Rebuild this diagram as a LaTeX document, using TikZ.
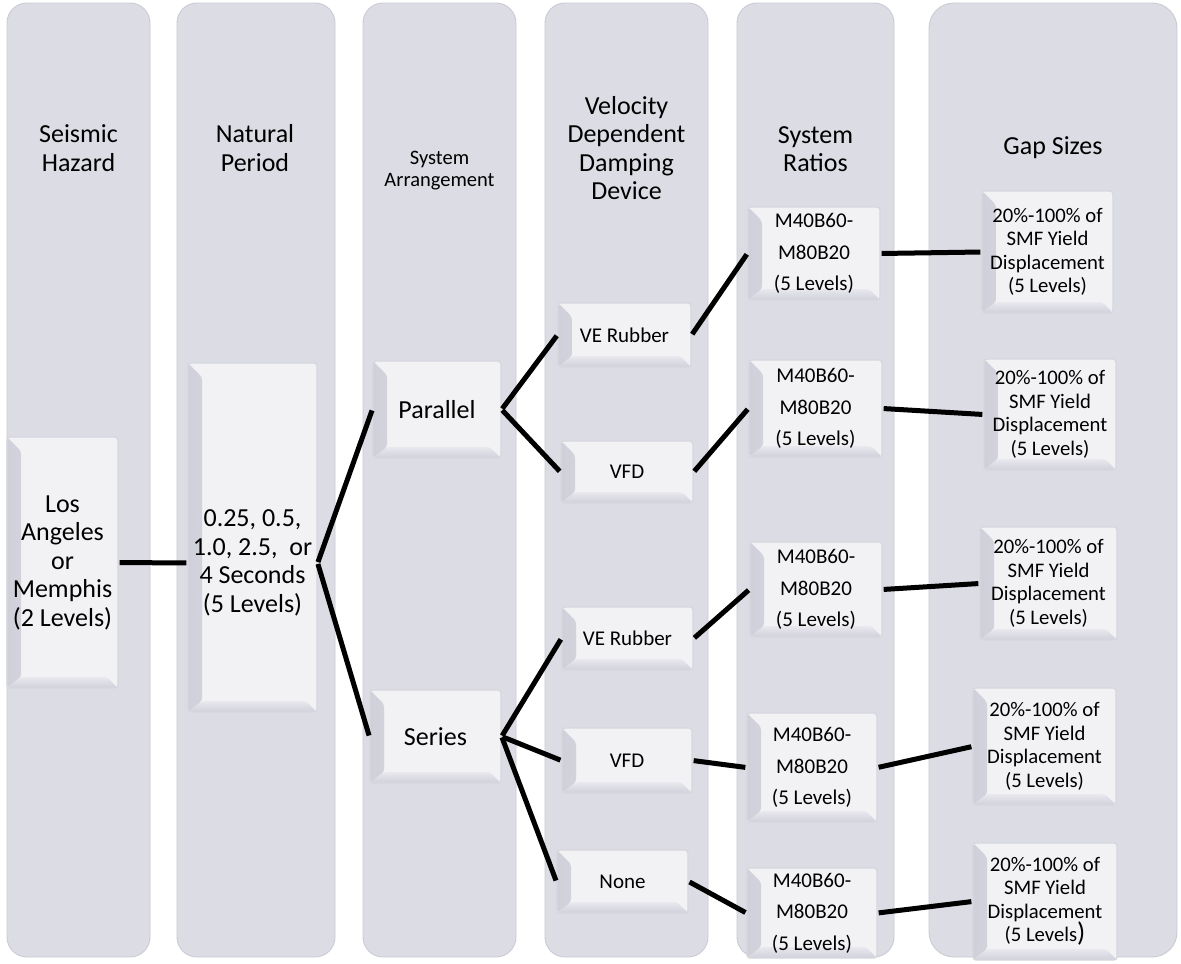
\documentclass[tikz,border=0pt]{standalone}
\usepackage{fontspec}
\setmainfont{Carlito}
\usetikzlibrary{calc}
\definecolor{colfill}{HTML}{DCDCE4}
\definecolor{coledge}{HTML}{CACBD3}
\definecolor{boxfill}{HTML}{F2F2F5}
\definecolor{boxedge}{HTML}{D6D7DE}
\definecolor{bevdark}{HTML}{CFD0D9}
\definecolor{bevlight}{HTML}{E6E6EC}
\definecolor{botdark}{HTML}{D0D1DA}
\definecolor{botlight}{HTML}{E8E8EE}
\tikzset{
  col/.style={draw=coledge, line width=0.9pt, fill=colfill, rounded corners=20pt, inner sep=0pt},
  bbox/.style={draw=boxedge, line width=1.3pt, fill=boxfill, rounded corners=3pt, inner sep=0pt, align=center,
    path picture={
      \shade[left color=bevdark, right color=bevlight]
        (path picture bounding box.north west) -- ++(14pt,-14pt)
        -- ($(path picture bounding box.south west)+(14pt,11pt)$)
        -- (path picture bounding box.south west) -- cycle;
      \shade[bottom color=botdark, top color=botlight]
        (path picture bounding box.south west) -- ++(14pt,11pt)
        -- ($(path picture bounding box.south east)+(-11pt,11pt)$)
        -- (path picture bounding box.south east) -- cycle;
    }},
  big/.style={font=\fontsize{26}{28.5}\selectfont},
  mid/.style={font=\fontsize{21}{31.5}\selectfont},
  small/.style={font=\fontsize{21}{24}\selectfont},
  gap/.style={font=\fontsize{20.7}{23.5}\selectfont},
  hdr/.style={big, align=center, inner sep=0pt},
  hdrs/.style={font=\fontsize{20.5}{22}\selectfont, align=center, inner sep=0pt},
  txt/.style={big, align=center, inner sep=0pt},
  link/.style={line width=5pt, black, shorten <=1pt, shorten >=1pt},
}
% #1 options, #2 name, #3 x0, #4 y0, #5 x1, #6 y1, #7 text
\newcommand\bbx[7][]{%
  \pgfmathsetmacro\bw{#5-#3}\pgfmathsetmacro\bh{#6-#4}%
  \node[bbox,#1,minimum width=\bw pt, minimum height=\bh pt] (#2) at ({(#3+#5)/2},{(#4+#6)/2}) {#7};}
\begin{document}
\begin{tikzpicture}[x=1pt,y=-1pt]
\useasboundingbox[fill=white] (0,0) rectangle (1181,964);
% columns
\node[col,minimum width=143pt,minimum height=954pt] (c1) at (78.5,480) {};
\node[col,minimum width=158pt,minimum height=954pt] (c2) at (256,480) {};
\node[col,minimum width=153pt,minimum height=954pt] (c3) at (439.5,480) {};
\node[col,minimum width=163pt,minimum height=954pt] (c4) at (626.5,480) {};
\node[col,minimum width=157pt,minimum height=954pt] (c5) at (815.5,480) {};
\node[col,rounded corners=25pt,minimum width=248pt,minimum height=954pt] (c6) at (1053,480) {};
% headers
\node[hdr] (h1) at (78.5,148) {Seismic\\Hazard};
\node[hdr] (h2) at (255,148) {Natural\\Period};
\node[hdrs] (h3) at (439.5,171) {System\\Arrangement};
\node[hdr] (h4) at (626.5,148) {Velocity\\Dependent\\Damping\\Device};
\node[hdr] (h5) at (815.5,149) {System\\Ratios};
\node[hdr] (h6) at (1053,148) {Gap Sizes};
% boxes
\bbx[big]{LA}{7}{437}{118}{688}{Los\\Angeles\\or\\Memphis\\(2 Levels)}
\bbx{NP}{188}{363}{317}{712}{}
\node[txt] (NPt) at (252.5,563) {0.25, 0.5,\\1.0, 2.5,\ \ or\\4 Seconds\\(5 Levels)};
\bbx[big]{Par}{373}{361}{501}{458}{Parallel}
\bbx[big]{Ser}{370}{690}{501}{783}{Series}
\bbx[small]{VE1}{558}{303}{691}{367}{VE Rubber}
\bbx[small]{VFD1}{561}{441}{693}{503}{VFD}
\bbx[small]{VE2}{562}{607}{693}{670}{VE Rubber}
\bbx[small]{VFD2}{562}{728}{692}{793}{VFD}
\bbx[small]{None}{557}{850}{688}{913}{None}
\bbx[mid]{M1}{748}{207}{880}{300}{M40B60-\\M80B20\\(5 Levels)}
\bbx[mid]{M2}{749}{360}{882}{457}{M40B60-\\M80B20\\(5 Levels)}
\bbx[mid]{M3}{750}{542}{882}{637}{M40B60-\\M80B20\\(5 Levels)}
\bbx[mid]{M4}{747}{713}{877}{822}{M40B60-\\M80B20\\(5 Levels)}
\bbx[mid]{M5}{747}{868}{877}{958}{M40B60-\\M80B20\\(5 Levels)}
\bbx[gap]{G1}{982}{191}{1113}{313}{20\%-100\% of\\SMF Yield\\Displacement\\(5 Levels)}
\bbx[gap]{G2}{984}{359}{1116}{470}{20\%-100\% of\\SMF Yield\\Displacement\\(5 Levels)}
\bbx[gap]{G3}{980}{527}{1117}{640}{20\%-100\% of\\SMF Yield\\Displacement\\(5 Levels)}
\bbx[gap]{G4}{973}{688}{1116}{805}{20\%-100\% of\\SMF Yield\\Displacement\\(5 Levels)}
\bbx[gap]{G5}{973}{843}{1117}{960}{20\%-100\% of\\SMF Yield\\Displacement\\(5 Levels{\fontsize{27}{23.5}\selectfont )}}
% connectors
\draw[link] (LA.east) -- (NPt.center -| NP.west);
\draw[link] (NP.east |- NPt.center) -- (Par.west);
\draw[link] (NP.east |- NPt.center) -- (Ser.west);
\draw[link] (Par.east) -- (VE1.west);
\draw[link] (Par.east) -- (VFD1.west);
\draw[link] (Ser.east) -- (VE2.west);
\draw[link] (Ser.east) -- (VFD2.west);
\draw[link] (Ser.east) -- (None.west);
\draw[link] (VE1.east) -- (M1.west);
\draw[link] (VFD1.east) -- (M2.west);
\draw[link] (VE2.east) -- (M3.west);
\draw[link] (VFD2.east) -- (M4.west);
\draw[link] (None.east) -- (M5.west);
\draw[link] (M1.east) -- (G1.west);
\draw[link] (M2.east) -- (G2.west);
\draw[link] (M3.east) -- (G3.west);
\draw[link] (M4.east) -- (G4.west);
\draw[link] (M5.east) -- (G5.west);
\end{tikzpicture}
\end{document}
